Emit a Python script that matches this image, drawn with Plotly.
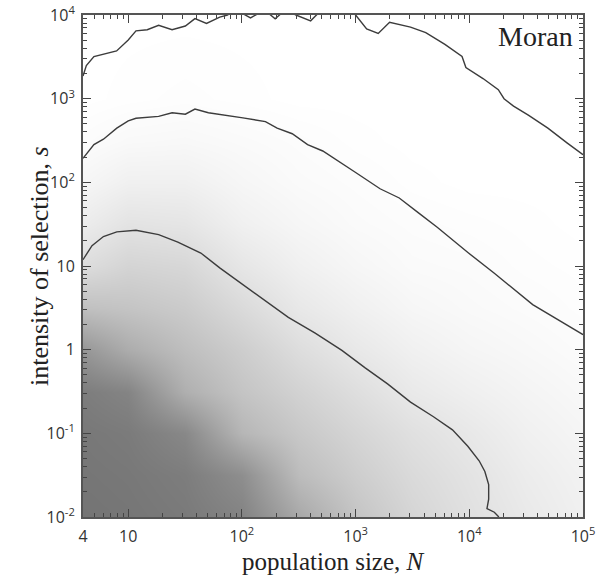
import plotly.graph_objects as go

# ---------------- data ----------------
# background shading (gray level 0-255) on a grid of N (columns) x s (rows)
grid_N = [4, 10, 31.6, 100, 316, 1000, 3162, 10000, 31623, 100000]
grid_s = [0.01, 0.0316, 0.1, 0.316, 1, 3.16, 10, 31.6, 100, 316, 1000, 10000]
gray = [
    [116, 118, 122, 131, 168, 196, 213, 224, 233, 240],   # s=0.01
    [118, 120, 125, 142, 188, 205, 218, 227, 236, 242],   # 0.0316
    [120, 123, 136, 182, 200, 213, 224, 232, 240, 245],   # 0.1
    [125, 132, 175, 196, 210, 222, 233, 239, 244, 248],   # 0.316
    [150, 172, 190, 205, 221, 232, 240, 245, 248, 251],   # 1
    [192, 196, 203, 218, 232, 240, 246, 249, 251, 253],   # 3.16
    [221, 212, 215, 230, 240, 246, 250, 251, 253, 254],   # 10
    [236, 227, 229, 240, 246, 250, 252, 253, 254, 255],   # 31.6
    [246, 240, 240, 246, 250, 252, 254, 255, 255, 255],   # 100
    [252, 249, 248, 250, 252, 254, 255, 255, 255, 255],   # 316
    [255, 254, 253, 254, 255, 255, 255, 255, 255, 255],   # 1000
    [255, 255, 255, 255, 255, 255, 255, 255, 255, 255],   # 10000
]

# contour lines
top_N = [4, 4.28, 4.99, 7.9, 10, 11.7, 14.7, 18.5, 24.3, 31.8, 38.6, 48.8, 63.8, 74.5,
         89, 119, 158, 196, 240, 299, 402, 501, 891, 1000, 1250, 1580, 1990, 3040,
         4140, 6100, 8630, 9330, 13200, 18000, 20200, 24500, 33300, 49100, 72300, 100000]
top_s = [1860, 2480, 3190, 3720, 5020, 6470, 6670, 7530, 6670, 7380, 9040, 7930, 9420, 10000,
         11500, 9230, 11500, 9000, 11500, 10000, 8510, 11500, 11500, 10000, 6810, 6030, 8170, 7160,
         6150, 4460, 3190, 2360, 1740, 1280, 998, 815, 632, 444, 296, 214]

mid_N = [4, 4.99, 6.05, 7.93, 10, 11.7, 18.5, 24.3, 31.8, 38.6, 50.7, 74.5, 102, 161, 204,
         277, 378, 514, 757, 993, 1640, 2420, 3550, 5220, 9840, 16600, 36100, 100000]
mid_s = [194, 282, 328, 444, 543, 583, 614, 679, 652, 752, 679, 632, 589, 532, 444,
         381, 282, 237, 170, 132, 83.8, 65.0, 43.4, 29.0, 14.3, 8.18, 3.46, 1.51]

low_N = [4, 4.8, 6.05, 7.93, 11.7, 18.5, 27.3, 43.5, 63.8, 102, 161, 256, 441, 757, 1205,
         1910, 3040, 4840, 7110, 9700, 12200, 13700, 14800, 14800, 14300, 16600, 18200]
low_s = [11.9, 17.5, 22.5, 25.6, 26.7, 23.7, 19.3, 14.3, 9.5, 6.04, 3.83, 2.43, 1.58, 0.98, 0.61,
         0.39, 0.236, 0.158, 0.110, 0.0700, 0.0470, 0.0350, 0.0244, 0.0163, 0.0126, 0.0114, 0.01]

x_tickvals = [4, 10, 100, 1000, 10000, 100000]
x_ticktext = ["4", "10", "10<sup>2</sup>", "10<sup>3</sup>", "10<sup>4</sup>", "10<sup>5</sup>"]
y_tickvals = [0.01, 0.1, 1, 10, 100, 1000, 10000]
y_ticktext = ["10<sup>-2</sup>", "10<sup>-1</sup>", "1", "10", "10<sup>2</sup>", "10<sup>3</sup>", "10<sup>4</sup>"]

x_minor = [m * 10 ** e for e in range(0, 5) for m in range(2, 10) if m * 10 ** e > 4]
y_minor = [m * 10.0 ** e for e in range(-2, 4) for m in range(2, 10)]

# ---------------- figure ----------------
fig = go.Figure()
fig.add_trace(go.Heatmap(
    x=grid_N, y=grid_s, z=gray, zmin=0, zmax=255, zsmooth="best",
    colorscale=[[0, "rgb(0,0,0)"], [1, "rgb(255,255,255)"]],
    showscale=False, hoverinfo="skip"))

line_style = dict(color="#3c3c3c", width=1.4)
for xs, ys in [(top_N, top_s), (mid_N, mid_s), (low_N, low_s)]:
    fig.add_trace(go.Scatter(x=xs, y=ys, mode="lines", line=line_style,
                             showlegend=False, hoverinfo="skip"))

tick_font = dict(family="Open Sans, Liberation Sans, sans-serif", size=16, color="#333")
title_font = dict(family="Liberation Serif, serif", size=25, color="#222")

common = dict(
    type="log", showgrid=False, zeroline=False, automargin=False,
    showline=True, linecolor="#555", linewidth=2, mirror="ticks",
    ticks="inside", ticklen=8, tickwidth=1, tickcolor="#444",
    tickfont=tick_font,
)

fig.update_xaxes(
    **common, range=[0.60206, 5],
    tickmode="array", tickvals=x_tickvals, ticktext=x_ticktext,
    ticklabelstandoff=4,
    minor=dict(tickmode="array", tickvals=x_minor, ticks="inside", ticklen=4,
               tickwidth=1, tickcolor="#444"),
)
fig.update_yaxes(
    **common, range=[-2, 4],
    tickmode="array", tickvals=y_tickvals, ticktext=y_ticktext,
    ticklabelstandoff=3,
    minor=dict(tickmode="array", tickvals=y_minor, ticks="inside", ticklen=4,
               tickwidth=1, tickcolor="#444"),
)

# axis titles
fig.add_annotation(text="population size, <i>N</i>", xref="paper", yref="paper",
                   x=0.5, y=0, xanchor="center", yanchor="middle", yshift=-44,
                   showarrow=False, font=title_font)
fig.add_annotation(text="intensity of selection, <i>s</i>", xref="paper", yref="paper",
                   x=0, y=0.5, xanchor="center", yanchor="middle", xshift=-44,
                   textangle=-90, showarrow=False, font=dict(title_font, size=26))

fig.add_annotation(text="Moran", xref="paper", yref="paper", x=1, y=1,
                   xanchor="right", yanchor="top", xshift=-8, yshift=-4,
                   showarrow=False,
                   font=dict(family="Liberation Serif, serif", size=28, color="#222"))

fig.update_layout(
    width=597, height=576,
    margin=dict(l=83, r=14, t=15, b=59),
    paper_bgcolor="white", plot_bgcolor="white",
    showlegend=False,
)

fig.write_html("out.html", config={"displayModeBar": False},
               post_script="document.body.style.margin='0';")
